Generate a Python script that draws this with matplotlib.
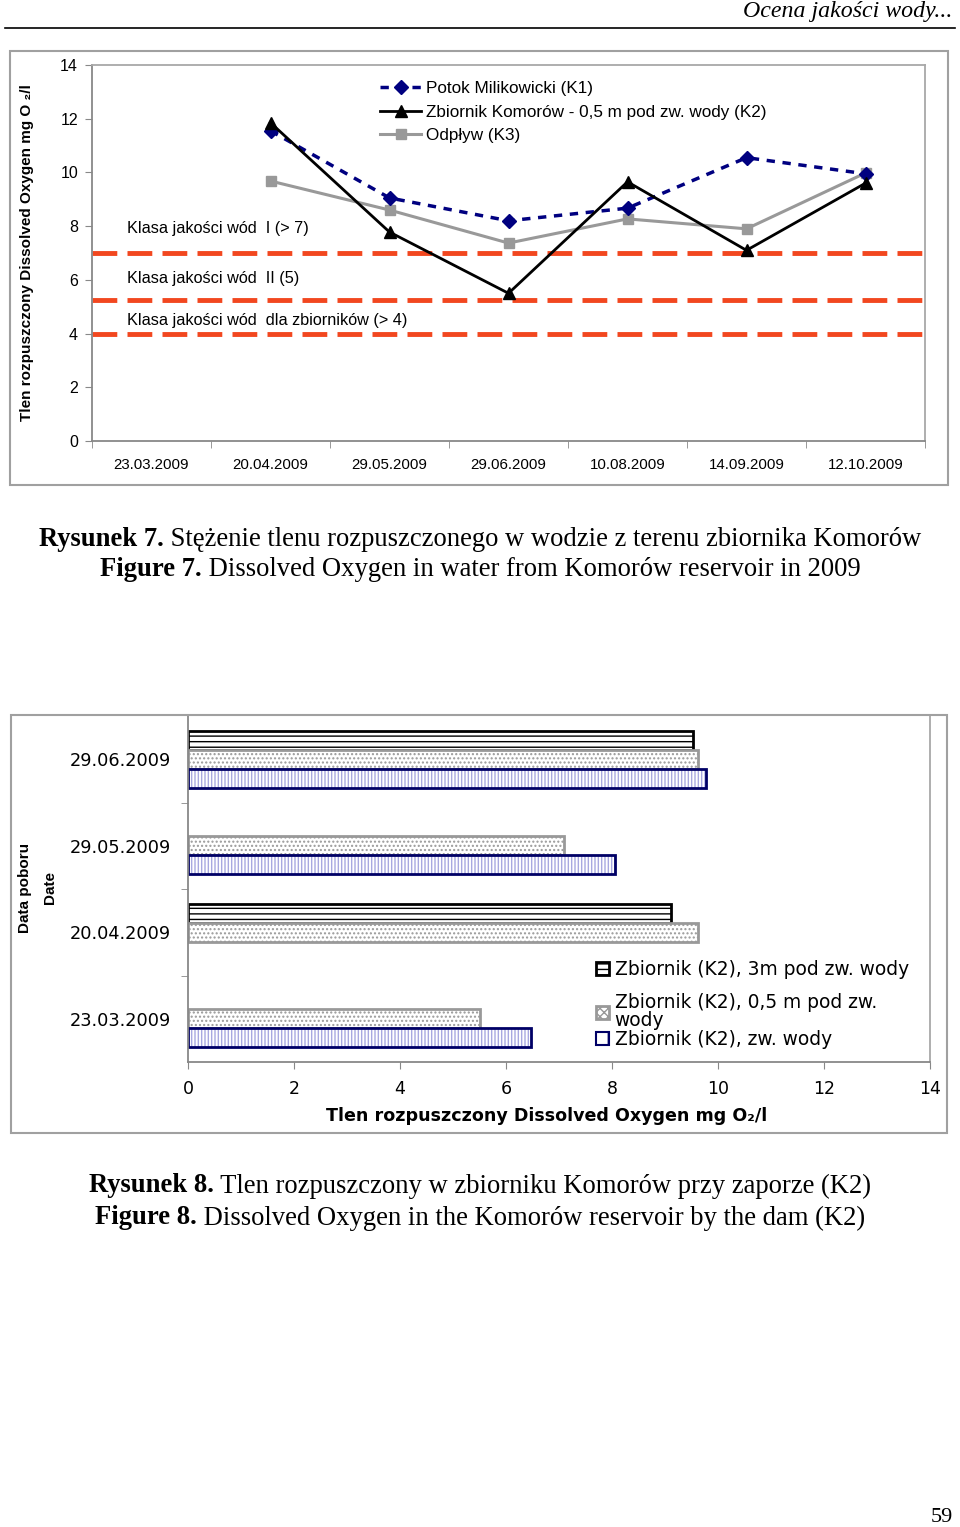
import numpy as np
import matplotlib
matplotlib.use("Agg")
import matplotlib.pyplot as plt
from matplotlib.patches import Rectangle, Patch
from matplotlib.lines import Line2D

# ---- data: figure 7 (line chart) ----
dates7 = ["23.03.2009", "20.04.2009", "29.05.2009", "29.06.2009",
          "10.08.2009", "14.09.2009", "12.10.2009"]
k1 = [np.nan, 11.55, 9.05, 8.2, 8.67, 10.55, 9.95]
k2 = [np.nan, 11.85, 7.78, 5.5, 9.65, 7.1, 9.6]
k3 = [np.nan, 9.68, 8.6, 7.37, 8.27, 7.9, 9.98]
class_levels = [7, 5.25, 4]
class_labels = ["Klasa jakości wód  I (> 7)", "Klasa jakości wód  II (5)",
                "Klasa jakości wód  dla zbiorników (> 4)"]

# ---- data: figure 8 (bar chart), bottom to top ----
dates8 = ["23.03.2009", "20.04.2009", "29.05.2009", "29.06.2009"]
z_3m = [np.nan, 9.12, np.nan, 9.53]
z_05m = [5.5, 9.62, 7.1, 9.62]
z_surf = [6.47, np.nan, 8.05, 9.78]

W, H = 960, 1527
fig = plt.figure(figsize=(W / 100, H / 100), dpi=100)
sans = ["Liberation Sans", "DejaVu Sans"]
serif = ["Liberation Serif", "DejaVu Serif"]
plt.rcParams["font.family"] = sans


def rect(x0, y0, x1, y1):
    return [x0 / W, 1 - y1 / H, (x1 - x0) / W, (y1 - y0) / H]


# outer frames
for (x0, y0, x1, y1) in [(10, 51, 948, 485), (11, 715, 947, 1133)]:
    fig.patches.append(Rectangle((x0 / W, 1 - y1 / H), (x1 - x0) / W, (y1 - y0) / H,
                                 transform=fig.transFigure, fill=False,
                                 edgecolor="#a0a0a0", lw=1.5))

# header
fig.text(952 / W, 1 - 12 / H, "Ocena jakości wody...", family=serif, style="italic",
         fontsize=17.2, ha="right", va="center")
fig.add_artist(Line2D([5 / W, 955 / W], [1 - 28 / H, 1 - 28 / H], color="black", lw=1.2,
                      transform=fig.transFigure))

# ---------- Figure 7 ----------
ax = fig.add_axes(rect(92, 65, 925, 441))
x = np.arange(len(dates7))
for lvl in class_levels:
    ax.axhline(lvl, color="#f2471f", lw=3.5, dashes=(5.1, 2.1), zorder=1)
ax.plot(x, k1, color="#000080", lw=2.5, dashes=(2.4, 2.2), marker="D", ms=7,
        label="Potok Milikowicki (K1)", zorder=3)
ax.plot(x, k2, color="black", lw=2, marker="^", ms=9,
        label="Zbiornik Komorów - 0,5 m pod zw. wody (K2)", zorder=4)
ax.plot(x, k3, color="#999999", lw=2.2, marker="s", ms=7.5,
        label="Odpływ (K3)", zorder=2)
ax.set_xlim(-0.5, 6.5)
ax.set_ylim(0, 14)
ax.set_yticks(range(0, 15, 2))
ax.set_xticks(x)
ax.set_xticklabels(dates7)
ax.set_xticks(np.arange(-0.5, 7, 1), minor=True)
ax.tick_params(axis="x", which="major", length=0, pad=12, labelsize=10.8)
ax.tick_params(axis="x", which="minor", length=5, color="#888888", direction="out")
ax.tick_params(axis="y", length=5, color="#888888", labelsize=11.5, pad=5)
for s in ax.spines.values():
    s.set_color("#a8a8a8")
    s.set_linewidth(1.3)
ax.spines["left"].set_color("#888888")
ax.spines["bottom"].set_color("#888888")
ax.set_ylabel("Tlen rozpuszczony Dissolved Oxygen mg O ₂/l", fontsize=11,
              fontweight="bold")
ax.yaxis.set_label_coords(-58 / 833, 0.5)
for lvl, txt, yy in zip(class_levels, class_labels, [228, 278, 320]):
    fig.text(127 / W, 1 - yy / H, txt, fontsize=11.7, va="center")
ax.legend(loc="upper left", bbox_to_anchor=((380 - 92) / 833, (441 - 81) / 376),
          frameon=False, fontsize=12.3, handlelength=2.4, labelspacing=0.5,
          borderpad=0, borderaxespad=0, handletextpad=0.3)

# ---------- Figure 8 ----------
bx = fig.add_axes(rect(188, 716, 930, 1062))
y = np.arange(len(dates8))
h = 0.218
bx.barh(y + h, z_3m, height=h, color="white", edgecolor="black", lw=2, hatch="---")
bx.barh(y, z_05m, height=h, color="white", edgecolor="#999999", lw=2, hatch="....")
bx.barh(y - h, z_surf, height=h, color="white", edgecolor="#a8a8e0", lw=0, hatch="|||||")
bx.barh(y - h, z_surf, height=h, fill=False, edgecolor="#000066", lw=2)
bx.set_xlim(0, 14)
bx.set_ylim(-0.5, 3.5)
bx.set_xticks(range(0, 15, 2))
bx.set_yticks(y)
bx.set_yticklabels(dates8)
bx.set_yticks(np.arange(0.5, 3, 1), minor=True)
bx.tick_params(axis="y", which="major", length=0, pad=12, labelsize=12.8,
               labelfontfamily="DejaVu Sans")
bx.tick_params(axis="y", which="minor", length=5, color="#888888")
bx.tick_params(axis="x", length=5, color="#888888", labelsize=12.5, pad=8,
               labelfontfamily="DejaVu Sans")
for s in bx.spines.values():
    s.set_color("#a8a8a8")
    s.set_linewidth(1.3)
bx.spines["top"].set_visible(False)
bx.spines["left"].set_color("#888888")
bx.spines["bottom"].set_color("#888888")
bx.set_xlabel("Tlen rozpuszczony Dissolved Oxygen mg O₂/l", fontsize=12.6,
              fontweight="bold", family="DejaVu Sans")
bx.xaxis.set_label_coords((547 - 188) / 742, -(1116 - 1062) / 346)
bx.xaxis.label.set_va("center")
fig.text(25 / W, 1 - 888 / H, "Data poboru", rotation=90, fontsize=11,
         fontweight="bold", ha="center", va="center")
fig.text(50 / W, 1 - 888 / H, "Date", rotation=90, fontsize=11,
         fontweight="bold", ha="center", va="center")
handles = [Patch(facecolor="white", edgecolor="black", hatch="---", lw=2),
           Patch(facecolor="white", edgecolor="#999999", hatch="xxxx", lw=2),
           Patch(facecolor="white", edgecolor="#000066", hatch="|", lw=1.5)]
labels = ["Zbiornik (K2), 3m pod zw. wody", "Zbiornik (K2), 0,5 m pod zw.\nwody",
          "Zbiornik (K2), zw. wody"]
leg_kw = dict(loc="upper left", frameon=False,
              prop={"family": "DejaVu Sans", "size": 13.4},
              handlelength=0.7, handleheight=0.7, handletextpad=0.3,
              borderpad=0, borderaxespad=0)
leg1 = bx.legend(handles[:1], labels[:1],
                 bbox_to_anchor=((596 - 188) / 742, (1062 - 960) / 346), **leg_kw)
bx.add_artist(leg1)
leg2 = bx.legend(handles[1:], labels[1:], labelspacing=0.0,
                 bbox_to_anchor=((596 - 188) / 742, (1062 - 993) / 346), **leg_kw)
for t in leg2.get_texts():
    t.set_linespacing(0.95)

# ---------- captions ----------
captions = [
    (539, "Rysunek 7.", " Stężenie tlenu rozpuszczonego w wodzie z terenu zbiornika Komorów"),
    (570, "Figure 7.", " Dissolved Oxygen in water from Komorów reservoir in 2009"),
    (1186, "Rysunek 8.", " Tlen rozpuszczony w zbiorniku Komorów przy zaporze (K2)"),
    (1218, "Figure 8.", " Dissolved Oxygen in the Komorów reservoir by the dam (K2)"),
]
renderer = fig.canvas.get_renderer()
for yy, bold, rest in captions:
    tb = fig.text(0, 1 - yy / H, bold, family=serif, fontweight="bold", fontsize=19.2,
                  va="center")
    tr = fig.text(0, 1 - yy / H, rest, family=serif, fontsize=19.2, va="center")
    wb = tb.get_window_extent(renderer).width
    wr = tr.get_window_extent(renderer).width
    x0 = 480 - (wb + wr) / 2
    tb.set_x(x0 / W)
    tr.set_x((x0 + wb) / W)

fig.text(942 / W, 1 - 1517 / H, "59", family=serif, fontsize=16, ha="center", va="center")

fig.savefig("out.png", dpi=100)
